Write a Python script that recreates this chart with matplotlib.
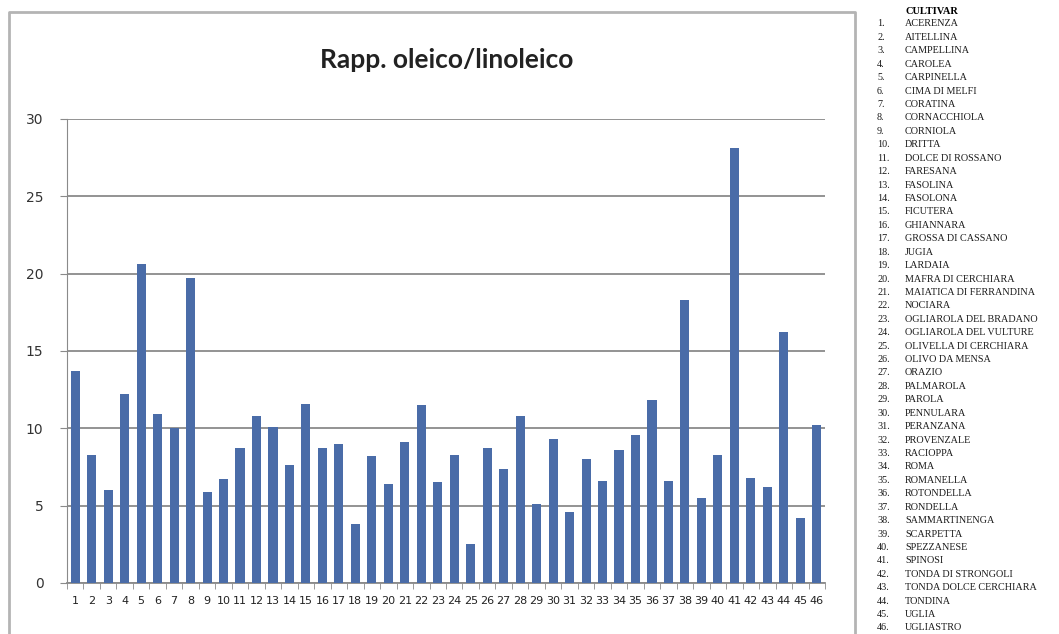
"""
Rapporto oleico/linoleico per cultivar (46 cultivar), con legenda numerata a destra.
"""

import numpy as np
import matplotlib.pyplot as plt
from matplotlib.lines import Line2D

TITLE = "Rapp. oleico/linoleico"

CULTIVARS = [
    "ACERENZA", "AITELLINA", "CAMPELLINA", "CAROLEA", "CARPINELLA",
    "CIMA DI MELFI", "CORATINA", "CORNACCHIOLA", "CORNIOLA", "DRITTA",
    "DOLCE DI ROSSANO", "FARESANA", "FASOLINA", "FASOLONA", "FICUTERA",
    "GHIANNARA", "GROSSA DI CASSANO", "JUGIA", "LARDAIA", "MAFRA DI CERCHIARA",
    "MAIATICA DI FERRANDINA", "NOCIARA", "OGLIAROLA DEL BRADANO",
    "OGLIAROLA DEL VULTURE", "OLIVELLA DI CERCHIARA", "OLIVO DA MENSA",
    "ORAZIO", "PALMAROLA", "PAROLA", "PENNULARA", "PERANZANA", "PROVENZALE",
    "RACIOPPA", "ROMA", "ROMANELLA", "ROTONDELLA", "RONDELLA",
    "SAMMARTINENGA", "SCARPETTA", "SPEZZANESE", "SPINOSI",
    "TONDA DI STRONGOLI", "TONDA DOLCE CERCHIARA", "TONDINA", "UGLIA",
    "UGLIASTRO",
]

# valori
RATIO = [
    13.7, 8.3, 6.0, 12.2, 20.6, 10.9, 10.0, 19.7, 5.9, 6.7,
    8.7, 10.8, 10.1, 7.6, 11.6, 8.7, 9.0, 3.8, 8.2, 6.4,
    9.1, 11.5, 6.5, 8.3, 2.5, 8.7, 7.4, 10.8, 5.1, 9.3,
    4.6, 8.0, 6.6, 8.6, 9.6, 11.8, 6.6, 18.3, 5.5, 8.3,
    28.1, 6.8, 6.2, 16.2, 4.2, 10.2,
]

Y_TICKS = [0, 5, 10, 15, 20, 25, 30]

BAR_COLOUR = "#4a6ca8"
GRID_COLOUR = "#8a8a8a"
FRAME_COLOUR = "#b4b4b4"

W, H = 1059, 634


def main():
    fig = plt.figure(figsize=(W / 100, H / 100), dpi=100)
    ax = fig.add_axes([67 / W, 1 - 583 / H, (825 - 67) / W, (583 - 119) / H])

    x = np.arange(1, len(RATIO) + 1)
    ax.bar(x, RATIO, width=0.55, color=BAR_COLOUR, zorder=3)

    ax.set_xlim(0.5, len(RATIO) + 0.5)
    ax.set_ylim(0, 30)
    ax.set_yticks(Y_TICKS)
    ax.set_yticklabels([str(t) for t in Y_TICKS], fontsize=10, color="#333333")
    ax.set_xticks(x)
    ax.set_xticklabels([str(i) for i in x], fontsize=8, color="#222222")
    ax.set_xticks(np.arange(0.5, len(RATIO) + 1), minor=True)
    ax.tick_params(axis="x", which="major", length=0, pad=9)
    ax.tick_params(axis="x", which="minor", length=4, color=GRID_COLOUR)
    ax.tick_params(axis="y", length=5, color=GRID_COLOUR, pad=12)

    ax.yaxis.grid(True, color=GRID_COLOUR, linewidth=1.3, zorder=0)
    for side in ("top", "right"):
        ax.spines[side].set_visible(False)
    ax.spines["left"].set_color(GRID_COLOUR)
    ax.spines["bottom"].set_color(GRID_COLOUR)
    ax.spines["bottom"].set_linewidth(1.3)

    fig.text(447 / W, 1 - 60 / H, TITLE, ha="center", va="center",
             fontfamily="Lato", fontsize=19, fontweight="bold", color="#222222")

    # cornice del grafico (senza lato inferiore, tagliata nell'originale)
    fx = [9 / W, 9 / W, 855 / W, 855 / W]
    fy = [0, 1 - 12 / H, 1 - 12 / H, 0]
    fig.add_artist(Line2D(fx, fy, transform=fig.transFigure,
                          color=FRAME_COLOUR, linewidth=2))

    # legenda numerata
    fig.text(905 / W, 1 - 12 / H, "CULTIVAR", ha="left", va="center",
             fontfamily="Liberation Serif", fontsize=7.5, fontweight="bold")
    step = (628 - 24) / (len(CULTIVARS) - 1)
    for i, name in enumerate(CULTIVARS):
        y = 1 - (24 + i * step) / H
        fig.text(877 / W, y, f"{i + 1}.", ha="left", va="center",
                 fontfamily="Liberation Serif", fontsize=7.3, color="#1a1a1a")
        fig.text(905 / W, y, name, ha="left", va="center",
                 fontfamily="Liberation Serif", fontsize=7.3, color="#1a1a1a")

    fig.savefig("out.png", dpi=100)
    plt.close(fig)


if __name__ == "__main__":
    main()
